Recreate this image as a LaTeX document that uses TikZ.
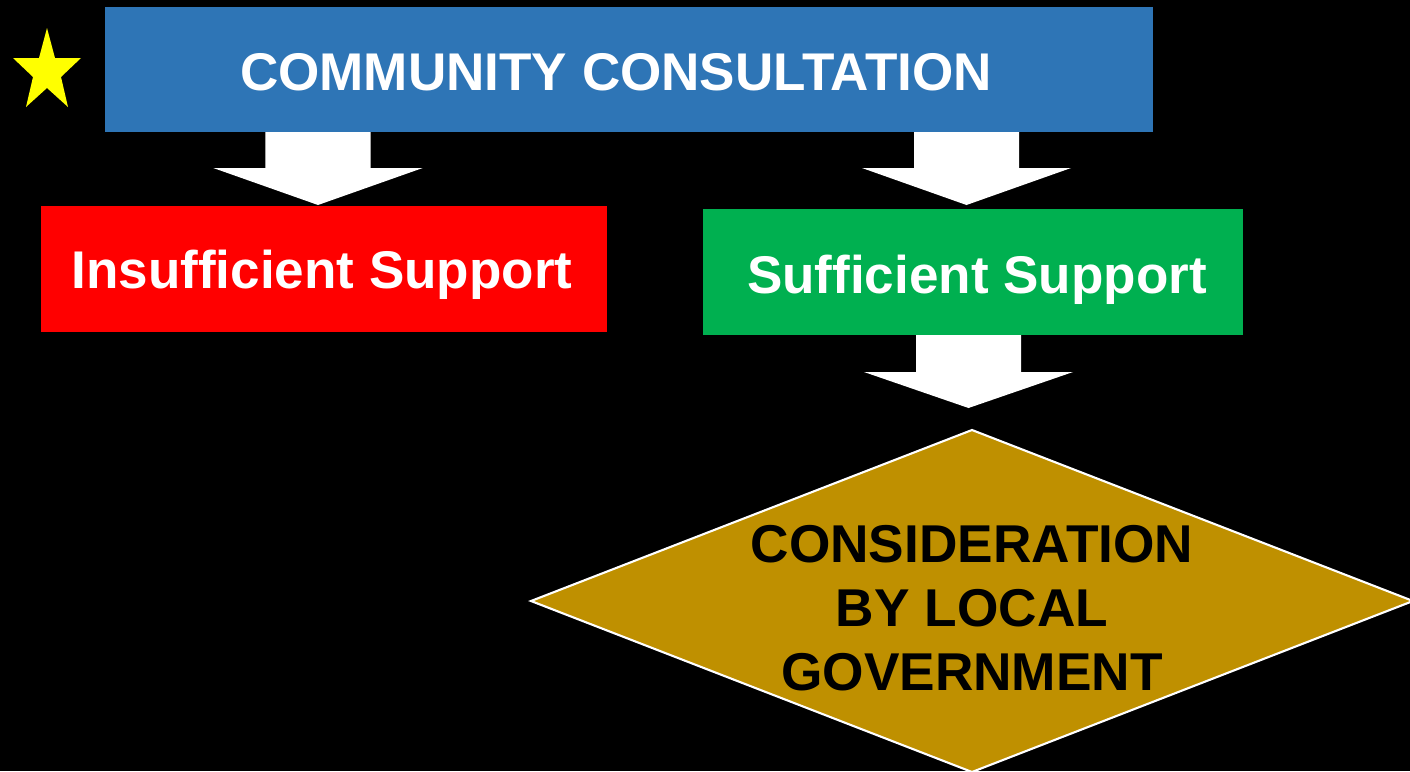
\documentclass[tikz,border=0pt]{standalone}
\usepackage{fontspec}
\setmainfont{Liberation Sans}
\definecolor{bluebox}{HTML}{2E75B6}
\definecolor{redbox}{HTML}{FF0000}
\definecolor{greenbox}{HTML}{00B050}
\definecolor{goldbox}{HTML}{BF9000}
\definecolor{staryellow}{HTML}{FFFF00}
\tikzset{
  box/.style={draw=none, inner sep=0pt, outer sep=0pt, anchor=north west},
  boxtext/.style={text=white, font=\bfseries\fontsize{30.2}{36}\selectfont, inner sep=0pt, anchor=base},
  blockarrow/.style={fill=white, draw=none},
  diamondtext/.style={text=black, font=\bfseries\fontsize{30.3}{36.4}\selectfont, align=center, inner sep=0pt}
}
% cx, ytop, yshoulder, ytip, half shaft, half head
\newcommand\myblockarrow[6]{%
  \fill[blockarrow] (#1-#5,#2) -- (#1+#5,#2) -- (#1+#5,#3) -- (#1+#6,#3) -- (#1,#4)
    -- (#1-#6,#3) -- (#1-#5,#3) -- cycle;}
\begin{document}
\begin{tikzpicture}[x=0.02cm,y=-0.02cm]
  \fill[black] (0,0) rectangle (1410,771);
  \useasboundingbox (0,0) rectangle (1410,771);
  % star
  \fill[staryellow] (47,28) -- (55,58) -- (81,58) -- (61,77) -- (68,107) -- (47,88)
    -- (26,107) -- (33,77) -- (13,58) -- (39,58) -- cycle;
  % boxes
  \node[box, fill=bluebox, minimum width=20.96cm, minimum height=2.5cm] (community) at (105,7) {};
  \node[box, fill=redbox, minimum width=11.32cm, minimum height=2.52cm] (insufficient) at (41,206) {};
  \node[box, fill=greenbox, minimum width=10.8cm, minimum height=2.52cm] (sufficient) at (703,209) {};
  % texts
  \node[boxtext] (communitytext) at (616,90) {COMMUNITY CONSULTATION};
  \node[boxtext] (insufficienttext) at (322,288) {Insufficient Support};
  \node[boxtext] (sufficienttext) at (977,293) {Sufficient Support};
  % block arrows
  \myblockarrow{318}{132}{168}{205}{52.7}{104.7}
  \myblockarrow{966.5}{132}{168}{205}{52.5}{104.5}
  \myblockarrow{968.5}{335}{372}{408}{52.5}{104.5}
  % diamond
  \coordinate (dtop) at (972,430);
  \coordinate (dleft) at (531,601);
  \coordinate (dright) at (1413,601);
  \coordinate (dbottom) at (972,772);
  \filldraw[fill=goldbox, draw=white, line width=1.2pt] (dtop) -- (dright) -- (dbottom) -- (dleft) -- cycle;
  \node[diamondtext] (consideration) at (972,608.5) {CONSIDERATION\\BY LOCAL\\GOVERNMENT};
\end{tikzpicture}
\end{document}
